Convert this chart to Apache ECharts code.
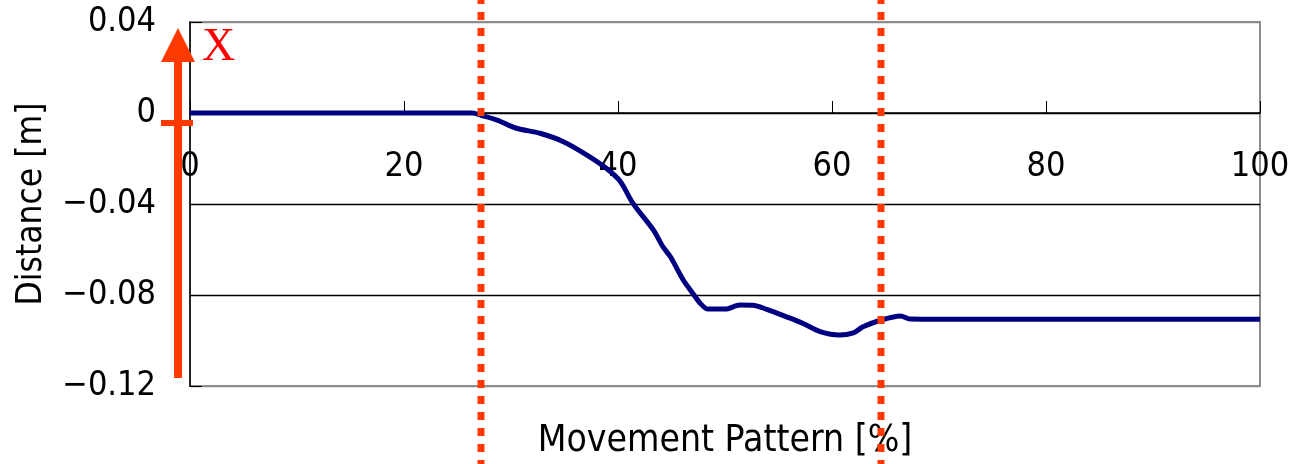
<!DOCTYPE html>
<html>
<head>
<meta charset="utf-8">
<script src="https://cdn.jsdelivr.net/npm/echarts@6/dist/echarts.min.js"></script>
<style>
  html, body { margin: 0; padding: 0; background: #ffffff; }
  #chart { width: 1290px; height: 464px; }
</style>
</head>
<body>
<div id="chart"></div>
<script>
// Movement pattern (% of the motion) and the measured displacement along X (m)
const pattern = [0, 5, 10, 15, 20, 25, 26.4, 27.2, 28.7, 30.5, 32.7, 34.9, 37.1, 38.9, 40.2, 41.4,
  43.3, 44.2, 44.9, 46.1, 47.0, 47.7, 48.4, 50.0, 51.4, 52.6, 53.9, 55.7, 57.3, 58.9, 60.7,
  62.0, 62.9, 64.6, 66.4, 67.3, 70, 80, 90, 100];
const distance = [0, 0, 0, 0, 0, 0, 0, -0.0010, -0.0031, -0.0067, -0.0089, -0.0126, -0.0185, -0.0243,
  -0.0300, -0.0397, -0.0514, -0.0588, -0.0632, -0.0734, -0.0793, -0.0837, -0.0862, -0.0862,
  -0.0844, -0.0845, -0.0863, -0.0895, -0.0925, -0.0961, -0.0976, -0.0966, -0.0940, -0.0910,
  -0.0892, -0.0906, -0.0907, -0.0907, -0.0907, -0.0907];

// Axis ranges and tick steps
const xRange = [0, 100];
const xStep = 20;
const yRange = [-0.12, 0.04];
const yStep = 0.04;

// Phase boundaries marked by dotted lines (% of movement)
const phaseBounds = [27.2, 64.6];

// Texts
const xName = 'Movement Pattern [%]';
const yName = 'Distance [m]';
const directionLabel = 'X';

const RED = '#ff3a00';
const FONT = '"DejaVu Sans Condensed", "DejaVu Sans", sans-serif';

const chart = echarts.init(document.getElementById('chart'), null, { renderer: 'canvas' });

function fmtY(v) {
  const r = Math.round(v * 100) / 100;
  if (r === 0) return '0';
  return (r < 0 ? '\u2212' : '') + Math.abs(r).toFixed(2);
}

chart.setOption({
  animation: false,
  backgroundColor: '#ffffff',
  grid: {
    left: 190, right: 30, top: 22, bottom: 78,
    containLabel: false,
    outerBoundsMode: 'none',
    show: true, borderColor: '#8c8c8c', borderWidth: 2, backgroundColor: 'transparent'
  },
  xAxis: {
    type: 'value',
    position: 'bottom',
    min: xRange[0], max: xRange[1], interval: xStep,
    name: xName,
    nameLocation: 'middle',
    nameGap: 310,
    nameTextStyle: { fontFamily: FONT, fontSize: 37, color: '#000' },
    axisLine: { onZero: false, lineStyle: { color: '#000', width: 1.5 } },
    axisTick: { inside: true, length: 12, lineStyle: { color: '#000', width: 1 } },
    axisLabel: { margin: 37, fontFamily: FONT, fontSize: 34, color: '#000' },
    splitLine: { show: false }
  },
  yAxis: {
    type: 'value',
    min: yRange[0], max: yRange[1], interval: yStep,
    name: yName,
    nameLocation: 'middle',
    nameGap: 141,
    nameRotate: 90,
    nameTextStyle: { fontFamily: FONT, fontSize: 35, color: '#000' },
    axisLine: { show: true, lineStyle: { color: '#000', width: 1.5 } },
    axisTick: { show: true, inside: true, length: 12, lineStyle: { color: '#000' } },
    axisLabel: { margin: 34, fontFamily: FONT, fontSize: 34, color: '#000', formatter: fmtY },
    splitLine: { show: true, lineStyle: { color: ['#8c8c8c', '#000', '#000', '#000'], width: 1.3 } }
  },
  series: [{
    type: 'line',
    data: pattern.map((x, i) => [x, distance[i]]),
    showSymbol: false,
    smooth: 0.3,
    lineStyle: { color: '#000080', width: 5 },
    z: 3
  }]
});

// Move the horizontal axis up so it crosses the vertical axis at y = 0
function placeAxisAtZero() {
  const zeroPx = chart.convertToPixel({ yAxisIndex: 0 }, 0);
  const bottomPx = chart.convertToPixel({ yAxisIndex: 0 }, yRange[0]);
  chart.setOption({ xAxis: { offset: zeroPx - bottomPx } });
}
placeAxisAtZero();

// Annotations placed through the chart's own coordinate system
function drawAnnotations() {
  const H = chart.getHeight();
  const topLeft = chart.convertToPixel({ gridIndex: 0 }, [xRange[0], yRange[1]]);
  const botLeft = chart.convertToPixel({ gridIndex: 0 }, [xRange[0], yRange[0]]);
  const zeroLeft = chart.convertToPixel({ gridIndex: 0 }, [xRange[0], 0]);
  const ax = topLeft[0] - 12;
  const tipY = topLeft[1] + 6;
  const headBase = tipY + 34;
  const shaftBottom = botLeft[1] - 8;

  const elements = [];
  // direction arrow next to the vertical axis
  elements.push({
    type: 'rect', z: 100,
    shape: { x: ax - 4, y: headBase - 1, width: 8, height: shaftBottom - headBase + 1 },
    style: { fill: RED }
  });
  elements.push({
    type: 'polygon', z: 100,
    shape: { points: [[ax, tipY], [ax - 17, headBase], [ax + 17, headBase]] },
    style: { fill: RED }
  });
  elements.push({
    type: 'rect', z: 100,
    shape: { x: ax - 17, y: zeroLeft[1] + 7, width: 32, height: 6 },
    style: { fill: RED }
  });
  elements.push({
    type: 'text', z: 100,
    x: topLeft[0] + 12, y: tipY - 3,
    style: {
      text: directionLabel, fill: '#ff0000',
      font: '46px "Liberation Serif", "Times New Roman", serif',
      textAlign: 'left', textVerticalAlign: 'top'
    }
  });
  // dotted phase boundaries running the full height
  phaseBounds.forEach(v => {
    const px = Math.round(chart.convertToPixel({ gridIndex: 0 }, [v, 0])[0]);
    elements.push({
      type: 'line', z: 100,
      shape: { x1: px, y1: 0, x2: px, y2: H },
      style: { stroke: RED, lineWidth: 7, lineDash: [8, 8], lineDashOffset: 4 }
    });
  });
  chart.setOption({ graphic: { elements: elements } });
}
drawAnnotations();
</script>
</body>
</html>
